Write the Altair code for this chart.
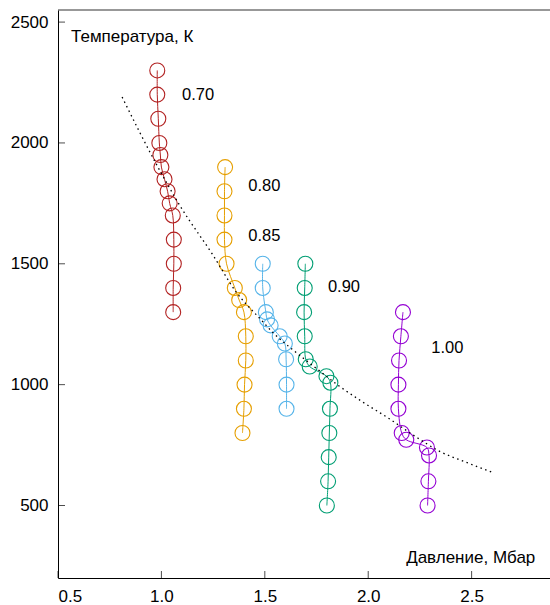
import altair as alt
import pandas as pd

FONT = "Liberation Sans"

series_names = ["0.70", "0.80", "0.85", "0.90", "1.00"]
series_colors = ["#b22222", "#e69f00", "#56b4e9", "#009e73", "#9400d3"]

p_070 = [0.98, 0.98, 0.985, 0.99, 0.995, 1.0, 1.015, 1.03, 1.04, 1.055, 1.06, 1.06, 1.057, 1.057]
t_070 = [2300, 2200, 2100, 2000, 1950, 1900, 1850, 1800, 1750, 1700, 1600, 1500, 1400, 1300]

p_080 = [1.308, 1.305, 1.305, 1.305, 1.315, 1.355, 1.376, 1.399, 1.408, 1.408, 1.402, 1.399, 1.392]
t_080 = [1900, 1800, 1700, 1600, 1500, 1400, 1350, 1300, 1200, 1100, 1000, 900, 800]

p_085 = [1.49, 1.49, 1.505, 1.511, 1.528, 1.572, 1.597, 1.603, 1.605, 1.605]
t_085 = [1500, 1400, 1300, 1270, 1245, 1200, 1170, 1105, 1000, 900]

p_090 = [1.696, 1.693, 1.690, 1.693, 1.698, 1.717, 1.798, 1.817, 1.815, 1.812, 1.809, 1.806, 1.80]
t_090 = [1500, 1400, 1300, 1200, 1105, 1075, 1035, 1008, 900, 800, 700, 600, 500]

p_100 = [2.168, 2.158, 2.149, 2.146, 2.146, 2.162, 2.184, 2.284, 2.294, 2.291, 2.287]
t_100 = [1300, 1200, 1100, 1000, 900, 800, 772, 740, 707, 600, 500]

curve_p = [0.81, 0.98, 1.09, 1.25, 1.36, 1.48, 1.54, 1.62, 1.70, 1.76, 1.85, 1.97, 2.10, 2.22, 2.35, 2.47, 2.60]
curve_t = [2190, 1905, 1740, 1535, 1385, 1270, 1215, 1155, 1100, 1060, 1000, 930, 860, 790, 722, 680, 637]

label_p = [1.10, 1.42, 1.42, 1.805, 2.305]
label_t = [2200, 1820, 1615, 1405, 1150]

x_ticks = [0.5, 1.0, 1.5, 2.0, 2.5]
y_ticks = [500, 1000, 1500, 2000, 2500]

X_DOMAIN = [0.5, 2.879]
Y_DOMAIN = [200, 2550]
W, H = 492, 568

all_p = [p_070, p_080, p_085, p_090, p_100]
all_t = [t_070, t_080, t_085, t_090, t_100]
rows = []
for name, ps, ts in zip(series_names, all_p, all_t):
    for i, (p, t) in enumerate(zip(ps, ts)):
        rows.append({"series": name, "P": p, "T": t, "i": i})
df = pd.DataFrame(rows)
curve_df = pd.DataFrame({"P": curve_p, "T": curve_t, "i": list(range(len(curve_p)))})
labels_df = pd.DataFrame({"P": label_p, "T": label_t, "label": series_names})
xt_df = pd.DataFrame({"v": x_ticks})
yt_df = pd.DataFrame({"v": y_ticks})

xscale = alt.Scale(domain=X_DOMAIN, nice=False, zero=False)
yscale = alt.Scale(domain=Y_DOMAIN, nice=False, zero=False)
xaxis = alt.Axis(values=x_ticks, format=".1f", tickSize=0, labelPadding=10, grid=False,
                 title=None, domainColor="black", labelFontSize=17, labelFont=FONT,
                 labelColor="black")
yaxis = alt.Axis(values=y_ticks, format="d", tickSize=0, labelPadding=10, grid=False,
                 title=None, domainColor="black", labelFontSize=17, labelFont=FONT,
                 labelColor="black")

X = alt.X("P:Q", scale=xscale, axis=xaxis)
Y = alt.Y("T:Q", scale=yscale, axis=yaxis)
color = alt.Color("series:N", scale=alt.Scale(domain=series_names, range=series_colors), legend=None)

lines = alt.Chart(df).mark_line(strokeWidth=1, interpolate="catmull-rom").encode(
    x=X, y=Y, color=color, order="i:Q", detail="series:N")
points = alt.Chart(df).mark_point(shape="circle", filled=False, size=225, strokeWidth=1.1, opacity=1).encode(
    x=X, y=Y, color=color)
curve = alt.Chart(curve_df).mark_line(color="black", strokeWidth=1.3, strokeDash=[1.5, 3.5],
                                      interpolate="monotone").encode(x=X, y=Y, order="i:Q")
labels = alt.Chart(labels_df).mark_text(align="left", baseline="middle", fontSize=16.5, font=FONT,
                                        color="black").encode(x=X, y=Y, text="label:N")

ytitle = alt.Chart(pd.DataFrame({"P": [0.563], "T": [2437], "t": ["Температура, К"]})).mark_text(
    align="left", baseline="middle", fontSize=17, font=FONT, color="black").encode(x=X, y=Y, text="t:N")
xtitle = alt.Chart(pd.DataFrame({"P": [2.808], "T": [284], "t": ["Давление, Мбар"]})).mark_text(
    align="right", baseline="middle", fontSize=17, font=FONT, color="black").encode(x=X, y=Y, text="t:N")

xticks = alt.Chart(xt_df).mark_tick(orient="vertical", size=7, thickness=1, color="black").encode(
    x=alt.X("v:Q", scale=xscale, axis=xaxis), y=alt.value(H - 3.5))
yticks = alt.Chart(yt_df).mark_tick(orient="horizontal", size=7, thickness=1, color="black").encode(
    y=alt.Y("v:Q", scale=yscale, axis=yaxis), x=alt.value(3.5))
top_border = alt.Chart(pd.DataFrame({"v": [Y_DOMAIN[1]]})).mark_rule(color="#333333", strokeWidth=1.2).encode(
    y=alt.Y("v:Q", scale=yscale, axis=yaxis))

chart = alt.layer(top_border, xticks, yticks, lines, points, curve, labels, ytitle, xtitle).properties(
    width=W, height=H,
    autosize=alt.AutoSizeParams(type="none"),
    padding={"left": 58, "top": 10, "right": 0, "bottom": 27},
    background="white",
).configure_view(stroke=None)

chart.save("out.html", embed_options={"renderer": "svg", "actions": False})
